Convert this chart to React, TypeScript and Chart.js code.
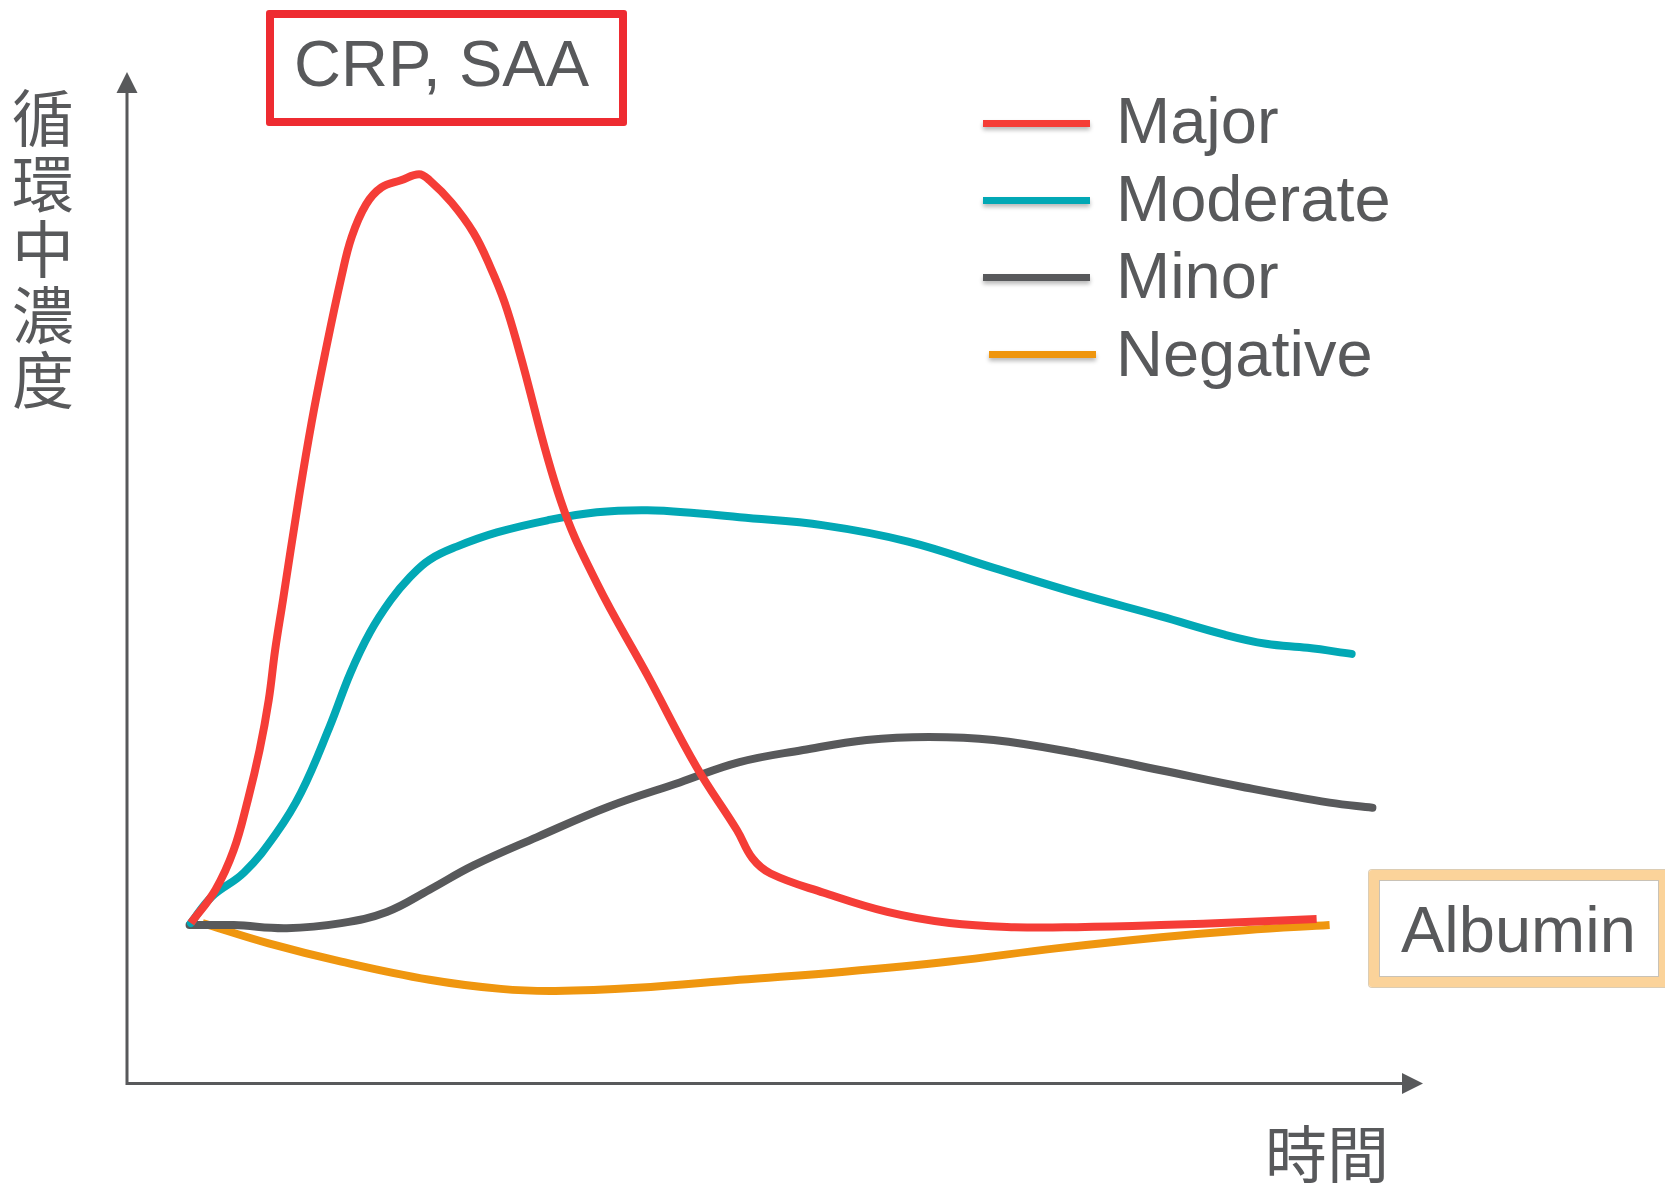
import React, { useEffect, useRef } from "react";
import { Chart, registerables } from "chart.js";

Chart.register(...registerables);

// ---- data (time 0..100, circulating concentration 0..100) ----
const seriesLabels = ["Major", "Moderate", "Minor", "Negative"];
const seriesColors = ["#F53D37", "#02A8B5", "#58595B", "#EF960F"];

const timeMajor = [5.0, 6.9, 8.3, 9.4, 10.3, 11.0, 11.5, 12.1, 13.3, 14.3, 15.4, 16.6, 17.4, 18.5, 19.7, 21.2, 22.6, 23.4, 25.1, 26.8, 28.1, 29.2, 30.3, 33.5, 36.3, 40.2, 44.0, 47.1, 48.3, 49.7, 53.8, 58.7, 63.5, 68.5, 73.3, 79.8, 86.3, 91.8];
const levelMajor = [15.9, 19.2, 23.1, 28.1, 33.0, 37.9, 42.9, 47.8, 57.7, 65.3, 72.5, 79.7, 83.7, 86.9, 88.6, 89.3, 89.9, 89.3, 87.1, 84.1, 80.7, 77.2, 72.5, 57.7, 49.5, 40.4, 31.3, 25.1, 22.3, 20.8, 18.9, 17.0, 15.9, 15.5, 15.5, 15.7, 16.0, 16.3];

const timeModerate = [5.0, 6.6, 9.1, 11.6, 13.5, 15.7, 17.3, 18.8, 20.4, 21.9, 23.4, 25.5, 28.6, 32.5, 36.3, 40.2, 44.0, 47.3, 53.8, 60.3, 66.9, 73.3, 79.8, 84.7, 87.9, 91.1, 94.5];
const levelModerate = [15.9, 18.5, 20.9, 24.8, 28.8, 35.3, 40.6, 44.6, 47.8, 50.1, 51.8, 53.1, 54.5, 55.7, 56.5, 56.7, 56.4, 56.0, 55.2, 53.6, 51.0, 48.5, 46.2, 44.4, 43.5, 43.1, 42.5];

const timeMinor = [4.9, 8.3, 12.4, 16.6, 20.1, 23.4, 26.8, 31.7, 37.2, 42.7, 47.3, 52.2, 57.1, 61.9, 66.9, 73.3, 79.8, 86.3, 92.8, 96.1];
const levelMinor = [15.7, 15.7, 15.4, 15.9, 17.0, 19.2, 21.6, 24.4, 27.4, 29.8, 31.8, 33.0, 34.0, 34.3, 34.0, 32.7, 31.0, 29.3, 27.8, 27.3];

const timeNegative = [5.9, 11.0, 16.6, 23.4, 28.9, 33.1, 39.4, 47.3, 55.4, 63.5, 71.7, 79.8, 86.3, 92.8];
const levelNegative = [15.9, 13.9, 12.1, 10.3, 9.4, 9.2, 9.5, 10.3, 11.1, 12.1, 13.4, 14.5, 15.2, 15.7];

const seriesTimes = [timeMajor, timeModerate, timeMinor, timeNegative];
const seriesLevels = [levelMajor, levelModerate, levelMinor, levelNegative];
const seriesCaps = ["butt", "round", "round", "butt"];

const titleText = "CRP, SAA";
const sideText = "Albumin";
const yAxisTitle = "循環中濃度";
const xAxisTitle = "時間";

// ---- styles ----
const TEXT = "#58595B";
const SANS = '"Liberation Sans", Arial, Helvetica, sans-serif';
const CJK = '"Noto Sans CJK TC", "Noto Sans CJK SC", sans-serif';

const arrowAxes = {
  id: "arrowAxes",
  beforeDatasetsDraw(chart: any) {
    const { ctx } = chart;
    const xs = chart.scales.x;
    const ys = chart.scales.y;
    const x0 = xs.getPixelForValue(xs.min) + 1;
    const y0 = ys.getPixelForValue(ys.min) - 0.5;
    const yTip = ys.getPixelForValue(ys.max);
    const xTip = xs.getPixelForValue(xs.max);
    ctx.save();
    ctx.strokeStyle = TEXT;
    ctx.fillStyle = TEXT;
    ctx.lineWidth = 3;
    ctx.beginPath();
    ctx.moveTo(x0, y0 + 1.5);
    ctx.lineTo(x0, yTip + 18);
    ctx.moveTo(x0 - 1.5, y0);
    ctx.lineTo(xTip - 18, y0);
    ctx.stroke();
    ctx.beginPath();
    ctx.moveTo(x0, yTip);
    ctx.lineTo(x0 - 10.5, yTip + 21);
    ctx.lineTo(x0 + 10.5, yTip + 21);
    ctx.closePath();
    ctx.fill();
    ctx.beginPath();
    ctx.moveTo(xTip, y0);
    ctx.lineTo(xTip - 21, y0 - 10.5);
    ctx.lineTo(xTip - 21, y0 + 10.5);
    ctx.closePath();
    ctx.fill();
    ctx.restore();
  },
};

export default function App() {
  const ref = useRef<HTMLCanvasElement>(null);

  useEffect(() => {
    const chart = new Chart(ref.current as HTMLCanvasElement, {
      type: "line",
      data: {
        datasets: seriesLabels.map((label, i) => ({
          label,
          data: seriesTimes[i].map((t, j) => ({ x: t, y: seriesLevels[i][j] })),
          borderColor: seriesColors[i],
          backgroundColor: seriesColors[i],
          borderWidth: 8,
          pointRadius: 0,
          fill: false,
          tension: 0.4,
          borderCapStyle: seriesCaps[i] as any,
          borderJoinStyle: "round",
          clip: false,
        })),
      },
      options: {
        responsive: false,
        maintainAspectRatio: false,
        animation: false,
        devicePixelRatio: 1,
        events: [],
        layout: { padding: { left: 126, right: 242, top: 72, bottom: 103 } },
        plugins: { legend: { display: false }, tooltip: { enabled: false }, title: { display: false } },
        scales: {
          x: { type: "linear", min: 0, max: 100, display: false },
          y: { type: "linear", min: 0, max: 100, display: false },
        },
      },
      plugins: [arrowAxes],
    } as any);
    return () => chart.destroy();
  }, []);

  return (
    <div style={{ position: "fixed", left: 0, top: 0, width: 1665, height: 1187, background: "#fff", overflow: "hidden" }}>
      <canvas ref={ref} width={1665} height={1187} style={{ position: "absolute", left: 0, top: 0, width: 1665, height: 1187 }} />

      {/* title box */}
      <div style={{ position: "absolute", left: 266, top: 10, width: 361, height: 116, boxSizing: "border-box", border: "8px solid #EE2B31", borderRadius: 3 }} />
      <div style={{ position: "absolute", left: 294, top: 31, font: `65px/65px ${SANS}`, color: TEXT, whiteSpace: "nowrap" }}>{titleText}</div>

      {/* albumin box */}
      <div style={{ position: "absolute", left: 1369, top: 870, width: 300, height: 117, boxSizing: "border-box", border: "10px solid #FBD39A", borderRadius: 3, boxShadow: "inset 0 0 0 1px #C9C2B6, 0 0 0 1px #DCCDB4" }} />
      <div style={{ position: "absolute", left: 1401, top: 897, font: `65px/65px ${SANS}`, color: TEXT, whiteSpace: "nowrap" }}>{sideText}</div>

      {/* legend */}
      {seriesLabels.map((label, i) => (
        <React.Fragment key={label}>
          <div style={{ position: "absolute", left: 983 + (i === 3 ? 6 : 0), top: 119.5 + i * 77, width: 107, height: 7, background: seriesColors[i], boxShadow: "0 3px 4px rgba(0,0,0,0.28)" }} />
          <div style={{ position: "absolute", left: 1116, top: 88 + i * 77.7, font: `65px/65px ${SANS}`, color: TEXT, whiteSpace: "nowrap" }}>{label}</div>
        </React.Fragment>
      ))}

      {/* axis titles */}
      <div style={{ position: "absolute", left: 12, top: 83, width: 62, font: `62px/65.5px ${CJK}`, color: TEXT }}>
        {Array.from(yAxisTitle).map((ch, i) => (
          <div key={i}>{ch}</div>
        ))}
      </div>
      <div style={{ position: "absolute", left: 1265, top: 1119, font: `62px/65.5px ${CJK}`, color: TEXT, whiteSpace: "nowrap" }}>{xAxisTitle}</div>
    </div>
  );
}
